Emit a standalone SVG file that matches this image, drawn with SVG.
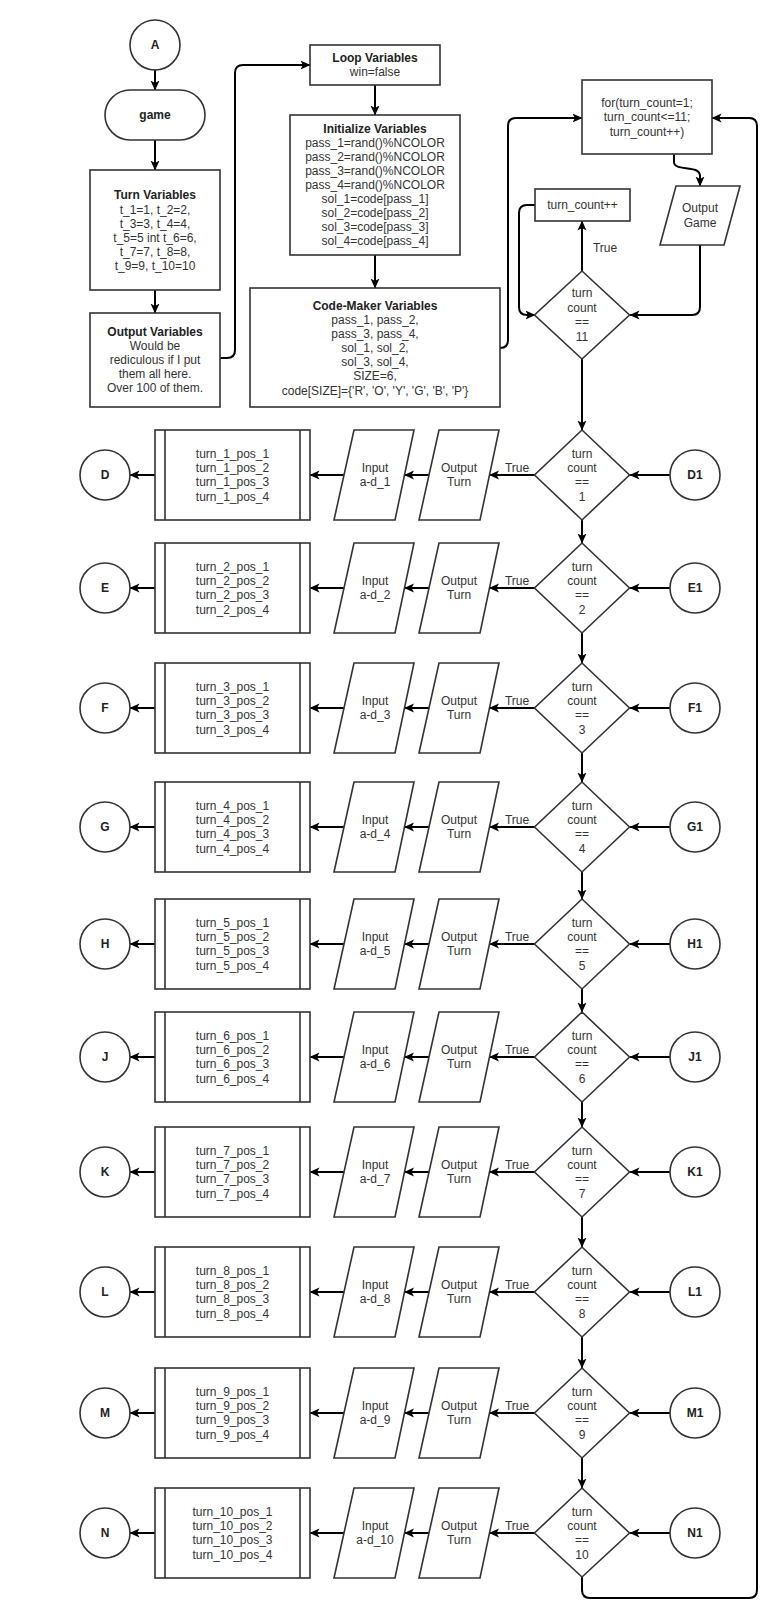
<svg xmlns="http://www.w3.org/2000/svg" width="781" height="1623" viewBox="0 0 781 1623">
<defs>
<style>
.s{fill:#fff;stroke:#333;stroke-width:1.6}
.c{fill:none;stroke:#000;stroke-width:2;marker-end:url(#arr)}
.cn{fill:none;stroke:#000;stroke-width:2}
text{font-family:"Liberation Sans",Arial,sans-serif;font-size:12px;fill:#333;text-anchor:middle}
.b{font-weight:bold;fill:#222}
</style>
<marker id="arr" viewBox="0 0 10 10" refX="9.5" refY="5" markerWidth="10" markerHeight="10" markerUnits="userSpaceOnUse" orient="auto">
<path d="M0,0.5 L10,5 L0,9.5 L2.5,5 Z" fill="#000"/>
</marker>
</defs>
<rect width="781" height="1623" fill="#fff"/>

<g id="connectors">
<path class="c" d="M155,70 L155,90"/>
<path class="c" d="M155,140 L155,170"/>
<path class="c" d="M155,290 L155,313"/>
<path class="c" d="M220,358 L227,358 Q235,358 235,350 L235,73 Q235,65 243,65 L310,65"/>
<path class="c" d="M375,85 L375,115"/>
<path class="c" d="M375,255 L375,288"/>
<path class="c" d="M500,348 Q508,348 508,340 L508,126 Q508,118 516,118 L582,118"/>
<path class="c" d="M674,154 L674,162 C674,172 700,164 700,176 L700,186"/>
<path class="c" d="M582,271 L582,221"/>
<path class="c" d="M535,205 L527,205 Q519,205 519,213 L519,307 Q519,315 527,315 L535,315"/>
<path class="c" d="M700,245 L700,307 Q700,315 692,315 L630,315"/>
<path class="c" d="M582,359 L582,430"/>
<path class="c" d="M582,1577 L582,1590 Q582,1598 590,1598 L749,1598 Q757,1598 757,1590 L757,126 Q757,118 749,118 L712,118"/>
<text x="605" y="252">True</text>

<path class="c" d="M582,520 L582,543"/>
<path class="c" d="M582,633 L582,663"/>
<path class="c" d="M582,753 L582,782"/>
<path class="c" d="M582,872 L582,899"/>
<path class="c" d="M582,989 L582,1012"/>
<path class="c" d="M582,1102 L582,1127"/>
<path class="c" d="M582,1217 L582,1247"/>
<path class="c" d="M582,1337 L582,1368"/>
<path class="c" d="M582,1458 L582,1488"/>

<g id="row-conn-1"><path class="c" d="M670,475 L630,475"/><path class="c" d="M535,475 L489.5,475"/><path class="c" d="M429,475 L404.5,475"/><path class="c" d="M344,475 L310,475"/><path class="c" d="M155,475 L130,475"/><text x="517" y="472">True</text></g>
<g id="row-conn-2"><path class="c" d="M670,588 L630,588"/><path class="c" d="M535,588 L489.5,588"/><path class="c" d="M429,588 L404.5,588"/><path class="c" d="M344,588 L310,588"/><path class="c" d="M155,588 L130,588"/><text x="517" y="585">True</text></g>
<g id="row-conn-3"><path class="c" d="M670,708 L630,708"/><path class="c" d="M535,708 L489.5,708"/><path class="c" d="M429,708 L404.5,708"/><path class="c" d="M344,708 L310,708"/><path class="c" d="M155,708 L130,708"/><text x="517" y="705">True</text></g>
<g id="row-conn-4"><path class="c" d="M670,827 L630,827"/><path class="c" d="M535,827 L489.5,827"/><path class="c" d="M429,827 L404.5,827"/><path class="c" d="M344,827 L310,827"/><path class="c" d="M155,827 L130,827"/><text x="517" y="824">True</text></g>
<g id="row-conn-5"><path class="c" d="M670,944 L630,944"/><path class="c" d="M535,944 L489.5,944"/><path class="c" d="M429,944 L404.5,944"/><path class="c" d="M344,944 L310,944"/><path class="c" d="M155,944 L130,944"/><text x="517" y="941">True</text></g>
<g id="row-conn-6"><path class="c" d="M670,1057 L630,1057"/><path class="c" d="M535,1057 L489.5,1057"/><path class="c" d="M429,1057 L404.5,1057"/><path class="c" d="M344,1057 L310,1057"/><path class="c" d="M155,1057 L130,1057"/><text x="517" y="1054">True</text></g>
<g id="row-conn-7"><path class="c" d="M670,1172 L630,1172"/><path class="c" d="M535,1172 L489.5,1172"/><path class="c" d="M429,1172 L404.5,1172"/><path class="c" d="M344,1172 L310,1172"/><path class="c" d="M155,1172 L130,1172"/><text x="517" y="1169">True</text></g>
<g id="row-conn-8"><path class="c" d="M670,1292 L630,1292"/><path class="c" d="M535,1292 L489.5,1292"/><path class="c" d="M429,1292 L404.5,1292"/><path class="c" d="M344,1292 L310,1292"/><path class="c" d="M155,1292 L130,1292"/><text x="517" y="1289">True</text></g>
<g id="row-conn-9"><path class="c" d="M670,1413 L630,1413"/><path class="c" d="M535,1413 L489.5,1413"/><path class="c" d="M429,1413 L404.5,1413"/><path class="c" d="M344,1413 L310,1413"/><path class="c" d="M155,1413 L130,1413"/><text x="517" y="1410">True</text></g>
<g id="row-conn-10"><path class="c" d="M670,1533 L630,1533"/><path class="c" d="M535,1533 L489.5,1533"/><path class="c" d="M429,1533 L404.5,1533"/><path class="c" d="M344,1533 L310,1533"/><path class="c" d="M155,1533 L130,1533"/><text x="517" y="1530">True</text></g>
</g>

<g id="A"><circle class="s" cx="155" cy="45" r="25"/><text class="b" x="155" y="49">A</text></g>
<g id="game"><rect class="s" x="105" y="90" width="100" height="50" rx="25"/><text class="b" x="155" y="119">game</text></g>
<g id="turn-vars"><rect class="s" x="90" y="170" width="130" height="120"/>
<text class="b" x="155" y="199">Turn Variables</text>
<text x="155" y="214">t_1=1, t_2=2,</text>
<text x="155" y="228">t_3=3, t_4=4,</text>
<text x="155" y="242">t_5=5 int t_6=6,</text>
<text x="155" y="256">t_7=7, t_8=8,</text>
<text x="155" y="270">t_9=9, t_10=10</text></g>
<g id="output-vars"><rect class="s" x="90" y="313" width="130" height="94"/>
<text class="b" x="155" y="336">Output Variables</text>
<text x="155" y="350">Would be</text>
<text x="155" y="364">rediculous if I put</text>
<text x="155" y="378">them all here.</text>
<text x="155" y="392">Over 100 of them.</text></g>
<g id="loop-vars"><rect class="s" x="310" y="45" width="130" height="40"/>
<text class="b" x="375" y="62">Loop Variables</text>
<text x="375" y="76">win=false</text></g>
<g id="init-vars"><rect class="s" x="290" y="115" width="170" height="140"/>
<text class="b" x="375" y="133">Initialize Variables</text>
<text x="375" y="147">pass_1=rand()%NCOLOR</text>
<text x="375" y="161">pass_2=rand()%NCOLOR</text>
<text x="375" y="175">pass_3=rand()%NCOLOR</text>
<text x="375" y="189">pass_4=rand()%NCOLOR</text>
<text x="375" y="203">sol_1=code[pass_1]</text>
<text x="375" y="217">sol_2=code[pass_2]</text>
<text x="375" y="231">sol_3=code[pass_3]</text>
<text x="375" y="245">sol_4=code[pass_4]</text></g>
<g id="codemaker-vars"><rect class="s" x="250" y="288" width="250" height="119"/>
<text class="b" x="375" y="310">Code-Maker Variables</text>
<text x="375" y="324">pass_1, pass_2,</text>
<text x="375" y="338">pass_3, pass_4,</text>
<text x="375" y="352">sol_1, sol_2,</text>
<text x="375" y="366">sol_3, sol_4,</text>
<text x="375" y="380">SIZE=6,</text>
<text x="375" y="395">code[SIZE]={'R', 'O', 'Y', 'G', 'B', 'P'}</text></g>
<g id="for-loop"><rect class="s" x="582" y="80" width="130" height="74"/>
<text x="647" y="107">for(turn_count=1;</text>
<text x="647" y="121">turn_count&lt;=11;</text>
<text x="647" y="136">turn_count++)</text></g>
<g id="increment"><rect class="s" x="535" y="189" width="95" height="32"/><text x="582.5" y="209">turn_count++</text></g>
<g id="output-game"><polygon class="s" points="676,186 740,186 724,245 660,245"/>
<text x="700" y="212">Output</text><text x="700" y="227">Game</text></g>
<g id="dec-11"><polygon class="s" points="582,271 629.5,315 582,359 534.5,315"/>
<text x="582" y="297">turn</text><text x="582" y="312">count</text><text x="582" y="326">==</text><text x="582" y="341">11</text></g>

<g id="row-1">
<polygon class="s" points="582,430 629.5,475 582,520 534.5,475"/>
<text x="582" y="457.5">turn</text><text x="582" y="472">count</text><text x="582" y="486">==</text><text x="582" y="500.5">1</text>
<circle class="s" cx="695" cy="475" r="25"/><text class="b" x="695" y="479">D1</text>
<polygon class="s" points="439,430 499,430 480,520 419,520"/><text x="459" y="472">Output</text><text x="459" y="486">Turn</text>
<polygon class="s" points="354,430 414,430 395,520 334,520"/><text x="375" y="472">Input</text><text x="375" y="486">a-d_1</text>
<rect class="s" x="155" y="430" width="155" height="90"/><line class="s" x1="165" y1="430" x2="165" y2="520"/><line class="s" x1="300" y1="430" x2="300" y2="520"/>
<text x="232.5" y="457.5">turn_1_pos_1</text><text x="232.5" y="472">turn_1_pos_2</text><text x="232.5" y="486">turn_1_pos_3</text><text x="232.5" y="500.5">turn_1_pos_4</text>
<circle class="s" cx="105" cy="475" r="25"/><text class="b" x="105" y="479">D</text>
</g>
<g id="row-2">
<polygon class="s" points="582,543 629.5,588 582,633 534.5,588"/>
<text x="582" y="570.5">turn</text><text x="582" y="585">count</text><text x="582" y="599">==</text><text x="582" y="613.5">2</text>
<circle class="s" cx="695" cy="588" r="25"/><text class="b" x="695" y="592">E1</text>
<polygon class="s" points="439,543 499,543 480,633 419,633"/><text x="459" y="585">Output</text><text x="459" y="599">Turn</text>
<polygon class="s" points="354,543 414,543 395,633 334,633"/><text x="375" y="585">Input</text><text x="375" y="599">a-d_2</text>
<rect class="s" x="155" y="543" width="155" height="90"/><line class="s" x1="165" y1="543" x2="165" y2="633"/><line class="s" x1="300" y1="543" x2="300" y2="633"/>
<text x="232.5" y="570.5">turn_2_pos_1</text><text x="232.5" y="585">turn_2_pos_2</text><text x="232.5" y="599">turn_2_pos_3</text><text x="232.5" y="613.5">turn_2_pos_4</text>
<circle class="s" cx="105" cy="588" r="25"/><text class="b" x="105" y="592">E</text>
</g>
<g id="row-3">
<polygon class="s" points="582,663 629.5,708 582,753 534.5,708"/>
<text x="582" y="690.5">turn</text><text x="582" y="705">count</text><text x="582" y="719">==</text><text x="582" y="733.5">3</text>
<circle class="s" cx="695" cy="708" r="25"/><text class="b" x="695" y="712">F1</text>
<polygon class="s" points="439,663 499,663 480,753 419,753"/><text x="459" y="705">Output</text><text x="459" y="719">Turn</text>
<polygon class="s" points="354,663 414,663 395,753 334,753"/><text x="375" y="705">Input</text><text x="375" y="719">a-d_3</text>
<rect class="s" x="155" y="663" width="155" height="90"/><line class="s" x1="165" y1="663" x2="165" y2="753"/><line class="s" x1="300" y1="663" x2="300" y2="753"/>
<text x="232.5" y="690.5">turn_3_pos_1</text><text x="232.5" y="705">turn_3_pos_2</text><text x="232.5" y="719">turn_3_pos_3</text><text x="232.5" y="733.5">turn_3_pos_4</text>
<circle class="s" cx="105" cy="708" r="25"/><text class="b" x="105" y="712">F</text>
</g>
<g id="row-4">
<polygon class="s" points="582,782 629.5,827 582,872 534.5,827"/>
<text x="582" y="809.5">turn</text><text x="582" y="824">count</text><text x="582" y="838">==</text><text x="582" y="852.5">4</text>
<circle class="s" cx="695" cy="827" r="25"/><text class="b" x="695" y="831">G1</text>
<polygon class="s" points="439,782 499,782 480,872 419,872"/><text x="459" y="824">Output</text><text x="459" y="838">Turn</text>
<polygon class="s" points="354,782 414,782 395,872 334,872"/><text x="375" y="824">Input</text><text x="375" y="838">a-d_4</text>
<rect class="s" x="155" y="782" width="155" height="90"/><line class="s" x1="165" y1="782" x2="165" y2="872"/><line class="s" x1="300" y1="782" x2="300" y2="872"/>
<text x="232.5" y="809.5">turn_4_pos_1</text><text x="232.5" y="824">turn_4_pos_2</text><text x="232.5" y="838">turn_4_pos_3</text><text x="232.5" y="852.5">turn_4_pos_4</text>
<circle class="s" cx="105" cy="827" r="25"/><text class="b" x="105" y="831">G</text>
</g>
<g id="row-5">
<polygon class="s" points="582,899 629.5,944 582,989 534.5,944"/>
<text x="582" y="926.5">turn</text><text x="582" y="941">count</text><text x="582" y="955">==</text><text x="582" y="969.5">5</text>
<circle class="s" cx="695" cy="944" r="25"/><text class="b" x="695" y="948">H1</text>
<polygon class="s" points="439,899 499,899 480,989 419,989"/><text x="459" y="941">Output</text><text x="459" y="955">Turn</text>
<polygon class="s" points="354,899 414,899 395,989 334,989"/><text x="375" y="941">Input</text><text x="375" y="955">a-d_5</text>
<rect class="s" x="155" y="899" width="155" height="90"/><line class="s" x1="165" y1="899" x2="165" y2="989"/><line class="s" x1="300" y1="899" x2="300" y2="989"/>
<text x="232.5" y="926.5">turn_5_pos_1</text><text x="232.5" y="941">turn_5_pos_2</text><text x="232.5" y="955">turn_5_pos_3</text><text x="232.5" y="969.5">turn_5_pos_4</text>
<circle class="s" cx="105" cy="944" r="25"/><text class="b" x="105" y="948">H</text>
</g>
<g id="row-6">
<polygon class="s" points="582,1012 629.5,1057 582,1102 534.5,1057"/>
<text x="582" y="1039.5">turn</text><text x="582" y="1054">count</text><text x="582" y="1068">==</text><text x="582" y="1082.5">6</text>
<circle class="s" cx="695" cy="1057" r="25"/><text class="b" x="695" y="1061">J1</text>
<polygon class="s" points="439,1012 499,1012 480,1102 419,1102"/><text x="459" y="1054">Output</text><text x="459" y="1068">Turn</text>
<polygon class="s" points="354,1012 414,1012 395,1102 334,1102"/><text x="375" y="1054">Input</text><text x="375" y="1068">a-d_6</text>
<rect class="s" x="155" y="1012" width="155" height="90"/><line class="s" x1="165" y1="1012" x2="165" y2="1102"/><line class="s" x1="300" y1="1012" x2="300" y2="1102"/>
<text x="232.5" y="1039.5">turn_6_pos_1</text><text x="232.5" y="1054">turn_6_pos_2</text><text x="232.5" y="1068">turn_6_pos_3</text><text x="232.5" y="1082.5">turn_6_pos_4</text>
<circle class="s" cx="105" cy="1057" r="25"/><text class="b" x="105" y="1061">J</text>
</g>
<g id="row-7">
<polygon class="s" points="582,1127 629.5,1172 582,1217 534.5,1172"/>
<text x="582" y="1154.5">turn</text><text x="582" y="1169">count</text><text x="582" y="1183">==</text><text x="582" y="1197.5">7</text>
<circle class="s" cx="695" cy="1172" r="25"/><text class="b" x="695" y="1176">K1</text>
<polygon class="s" points="439,1127 499,1127 480,1217 419,1217"/><text x="459" y="1169">Output</text><text x="459" y="1183">Turn</text>
<polygon class="s" points="354,1127 414,1127 395,1217 334,1217"/><text x="375" y="1169">Input</text><text x="375" y="1183">a-d_7</text>
<rect class="s" x="155" y="1127" width="155" height="90"/><line class="s" x1="165" y1="1127" x2="165" y2="1217"/><line class="s" x1="300" y1="1127" x2="300" y2="1217"/>
<text x="232.5" y="1154.5">turn_7_pos_1</text><text x="232.5" y="1169">turn_7_pos_2</text><text x="232.5" y="1183">turn_7_pos_3</text><text x="232.5" y="1197.5">turn_7_pos_4</text>
<circle class="s" cx="105" cy="1172" r="25"/><text class="b" x="105" y="1176">K</text>
</g>
<g id="row-8">
<polygon class="s" points="582,1247 629.5,1292 582,1337 534.5,1292"/>
<text x="582" y="1274.5">turn</text><text x="582" y="1289">count</text><text x="582" y="1303">==</text><text x="582" y="1317.5">8</text>
<circle class="s" cx="695" cy="1292" r="25"/><text class="b" x="695" y="1296">L1</text>
<polygon class="s" points="439,1247 499,1247 480,1337 419,1337"/><text x="459" y="1289">Output</text><text x="459" y="1303">Turn</text>
<polygon class="s" points="354,1247 414,1247 395,1337 334,1337"/><text x="375" y="1289">Input</text><text x="375" y="1303">a-d_8</text>
<rect class="s" x="155" y="1247" width="155" height="90"/><line class="s" x1="165" y1="1247" x2="165" y2="1337"/><line class="s" x1="300" y1="1247" x2="300" y2="1337"/>
<text x="232.5" y="1274.5">turn_8_pos_1</text><text x="232.5" y="1289">turn_8_pos_2</text><text x="232.5" y="1303">turn_8_pos_3</text><text x="232.5" y="1317.5">turn_8_pos_4</text>
<circle class="s" cx="105" cy="1292" r="25"/><text class="b" x="105" y="1296">L</text>
</g>
<g id="row-9">
<polygon class="s" points="582,1368 629.5,1413 582,1458 534.5,1413"/>
<text x="582" y="1395.5">turn</text><text x="582" y="1410">count</text><text x="582" y="1424">==</text><text x="582" y="1438.5">9</text>
<circle class="s" cx="695" cy="1413" r="25"/><text class="b" x="695" y="1417">M1</text>
<polygon class="s" points="439,1368 499,1368 480,1458 419,1458"/><text x="459" y="1410">Output</text><text x="459" y="1424">Turn</text>
<polygon class="s" points="354,1368 414,1368 395,1458 334,1458"/><text x="375" y="1410">Input</text><text x="375" y="1424">a-d_9</text>
<rect class="s" x="155" y="1368" width="155" height="90"/><line class="s" x1="165" y1="1368" x2="165" y2="1458"/><line class="s" x1="300" y1="1368" x2="300" y2="1458"/>
<text x="232.5" y="1395.5">turn_9_pos_1</text><text x="232.5" y="1410">turn_9_pos_2</text><text x="232.5" y="1424">turn_9_pos_3</text><text x="232.5" y="1438.5">turn_9_pos_4</text>
<circle class="s" cx="105" cy="1413" r="25"/><text class="b" x="105" y="1417">M</text>
</g>
<g id="row-10">
<polygon class="s" points="582,1488 629.5,1533 582,1577 534.5,1533"/>
<text x="582" y="1515.5">turn</text><text x="582" y="1530">count</text><text x="582" y="1544">==</text><text x="582" y="1558.5">10</text>
<circle class="s" cx="695" cy="1533" r="25"/><text class="b" x="695" y="1537">N1</text>
<polygon class="s" points="439,1488 499,1488 480,1578 419,1578"/><text x="459" y="1530">Output</text><text x="459" y="1544">Turn</text>
<polygon class="s" points="354,1488 414,1488 395,1578 334,1578"/><text x="375" y="1530">Input</text><text x="375" y="1544">a-d_10</text>
<rect class="s" x="155" y="1488" width="155" height="90"/><line class="s" x1="165" y1="1488" x2="165" y2="1578"/><line class="s" x1="300" y1="1488" x2="300" y2="1578"/>
<text x="232.5" y="1515.5">turn_10_pos_1</text><text x="232.5" y="1530">turn_10_pos_2</text><text x="232.5" y="1544">turn_10_pos_3</text><text x="232.5" y="1558.5">turn_10_pos_4</text>
<circle class="s" cx="105" cy="1533" r="25"/><text class="b" x="105" y="1537">N</text>
</g>
</svg>
